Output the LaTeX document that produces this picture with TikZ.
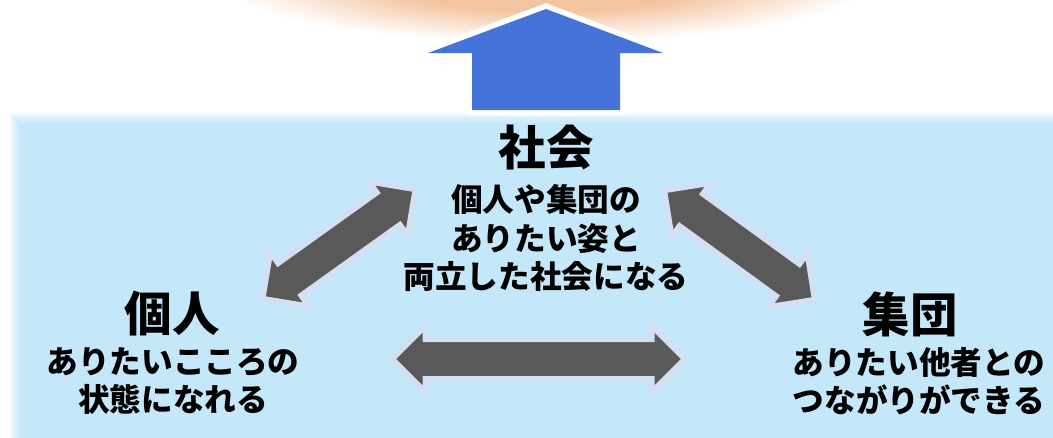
\documentclass[tikz,border=0pt]{standalone}
\usepackage{fontspec}
\newfontfamily\jp{Noto Sans CJK JP}
\usetikzlibrary{shapes.arrows}
\definecolor{glowc}{HTML}{F4C4A0}
\definecolor{bluebg}{HTML}{C4E8FA}
\definecolor{uparrowc}{HTML}{4673D9}
\definecolor{agray}{HTML}{595959}
\definecolor{aedge}{HTML}{D5DFF1}
\pgfdeclareradialshading{glowshade}{\pgfpoint{0bp}{0bp}}{color(0bp)=(glowc); color(12bp)=(glowc); color(25bp)=(white); color(50bp)=(white)}
\def\px{0.02cm}
\tikzset{
  titletext/.style={font=\jp\bfseries\fontsize{27}{32}\selectfont, inner sep=0pt, text=black},
  bodytext/.style={font=\jp\bfseries\fontsize{18}{22}\selectfont, align=center, inner sep=0pt, text=black},
  dblarrow/.style={double arrow, fill=agray, draw=aedge, line width=5*\px,
    inner xsep=0pt, inner ysep=17*\px, double arrow head extend=13*\px,
    double arrow tip angle=90},
}
\begin{document}
\begin{tikzpicture}[x=0.02cm,y=-0.02cm]
\useasboundingbox (0,0) rectangle (1053,437);
\fill[white] (0,0) rectangle (1053,437);
% glow
\shade[shading=glowshade] (546,-18) ellipse (6.5cm and 1.2cm);
% blue region with soft edge
\foreach \d in {-5,-4,...,4} {
  \fill[bluebg, opacity=0.15] (15+\d,118+\d) rectangle (1060,445);
}
\fill[bluebg] (20,123) rectangle (1060,445);
% up arrow
\def\uparrowpath{(546,9) -- (663,53) -- (620,53) -- (620,110) -- (472,110) -- (472,53) -- (428,53) -- cycle}
\draw[white, line width=11*\px, line join=miter] \uparrowpath;
\fill[uparrowc] \uparrowpath;
% double arrows
\node[dblarrow, minimum height=187*\px, minimum width=60*\px, rotate=35.6] (left) at (339,244) {};
\node[dblarrow, minimum height=185*\px, minimum width=60*\px, rotate=-36] (right) at (739.5,245) {};
\node[dblarrow, minimum height=292*\px, minimum width=60*\px] (bottom) at (538.5,359) {};
% texts
\node[titletext] (shakai) at (546,148) {社会};
\node[bodytext] (shakaitxt) at (546,238) {個人や集団の\\ありたい姿と\\両立した社会になる};
\node[titletext] (kojin) at (172,314) {個人};
\node[bodytext] (kojintxt) at (173,381) {ありたいこころの\\状態になれる};
\node[titletext] (shudan) at (910,314) {集団};
\node[bodytext] (shudantxt) at (919,381) {ありたい他者との\\つながりができる};
\end{tikzpicture}
\end{document}
